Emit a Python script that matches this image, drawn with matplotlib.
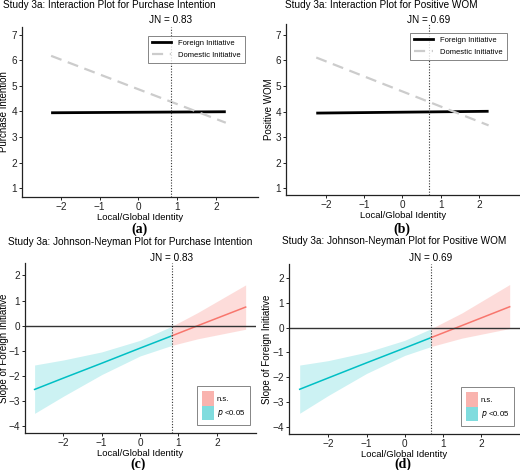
import numpy as np
import matplotlib
matplotlib.use("Agg")
import matplotlib.pyplot as plt
from matplotlib.patches import Patch
from matplotlib.lines import Line2D

plt.rcParams['font.family'] = ['Liberation Sans', 'DejaVu Sans']

# interaction plots (a) and (b): simple slopes at the ends of the moderator range
moderator_ends = [-2.25, 2.25]
foreign_pi = [3.95, 3.99]
domestic_pi = [6.18, 3.56]
foreign_wom = [3.94, 4.01]
domestic_wom = [6.11, 3.46]
jn_pi = 0.83
jn_wom = 0.69

# Johnson-Neyman plots (c) and (d)
jn_x = [-2.75, -2.0, -1.0, 0.0, 0.83, 1.5, 2.75]
pi_slope = [-2.53, -2.08, -1.49, -0.89, -0.40, 0.00, 0.74]
pi_lo = [-3.48, -2.80, -1.94, -1.20, -0.78, -0.52, -0.14]
pi_hi = [-1.56, -1.36, -1.04, -0.58, -0.02, 0.52, 1.62]

jn_x_wom = [-2.75, -2.0, -1.0, 0.0, 0.69, 1.5, 2.75]
wom_slope = [-2.49, -2.03, -1.42, -0.82, -0.40, 0.09, 0.85]
wom_lo = [-3.46, -2.74, -1.85, -1.12, -0.76, -0.42, -0.03]
wom_hi = [-1.51, -1.33, -0.99, -0.51, -0.04, 0.60, 1.75]

W, H = 520, 470
RED = '#F8766D'
CYAN = '#00BFC4'


def px_axes(fig, left, right, top, bottom):
    return fig.add_axes([left / W, 1 - bottom / H, (right - left) / W, (bottom - top) / H])


def fig_text(fig, x, y, s, **kw):
    fig.text(x / W, 1 - y / H, s, **kw)


def style(ax):
    for s in ['top', 'right']:
        ax.spines[s].set_visible(False)
    for s in ['left', 'bottom']:
        ax.spines[s].set_linewidth(0.9)
        ax.spines[s].set_color('#222222')
    ax.tick_params(direction='out', length=2.5, width=0.7, labelsize=7.2,
                   colors='#222222', pad=1.0)


def jn_label(ax, jn, y_px):
    # JN annotation sits above the panel, at the JN value on the x axis
    x_disp = ax.transData.transform((jn, 0))[0]
    ax.figure.text(x_disp / W, 1 - y_px / H, 'JN = %.2f' % jn,
                   fontsize=7.2, ha='center', va='center')


def interaction(ax, foreign, domestic, jn, ylabel, ylab_x):
    style(ax)
    ax.plot(moderator_ends, foreign, color='black', lw=2.0, solid_capstyle='butt')
    ax.plot(moderator_ends, domestic, color='#CCCCCC', lw=1.6, ls=(0, (5, 3)))
    ax.axvline(jn, color='#333333', lw=0.8, ls=(0, (1, 1.5)))
    ax.set_xticks([-2, -1, 0, 1, 2])
    ax.set_yticks(range(1, 8))
    ax.set_ylabel(ylabel, fontsize=7.0)
    ax.yaxis.set_label_coords(ylab_x, 0.5)
    ax.set_xlabel('Local/Global Identity', fontsize=6.8, labelpad=0.5)
    handles = [Line2D([], [], color='black', lw=2.0),
               Line2D([], [], color='#CCCCCC', lw=1.6, ls=(0, (5, 3)))]
    leg = ax.legend(handles, ['Foreign Initiative', 'Domestic Initiative'],
                    loc='upper right', bbox_to_anchor=(0.945, 0.95), fontsize=5.5,
                    frameon=True, fancybox=False, handlelength=2.4,
                    borderpad=0.55, labelspacing=0.6, handletextpad=1.0,
                    borderaxespad=0)
    leg.get_frame().set_edgecolor('#666666')
    leg.get_frame().set_linewidth(0.7)


def jn_plot(ax, x, slope, lo, hi, jn, ylab_x):
    style(ax)
    x = np.array(x)
    sig = x <= jn
    ns = x >= jn
    ax.fill_between(x[sig], np.array(lo)[sig], np.array(hi)[sig], color=CYAN, alpha=0.2, lw=0)
    ax.fill_between(x[ns], np.array(lo)[ns], np.array(hi)[ns], color=RED, alpha=0.25, lw=0)
    ax.plot(x[sig], np.array(slope)[sig], color=CYAN, lw=1.1)
    ax.plot(x[ns], np.array(slope)[ns], color=RED, lw=1.1)
    ax.axhline(0, color='#333333', lw=1.0)
    ax.axvline(jn, color='#333333', lw=0.8, ls=(0, (1, 1.5)))
    ax.set_xticks([-2, -1, 0, 1, 2])
    ax.set_yticks(range(-4, 3))
    ax.set_ylabel('Slope of Foreign Initiative', fontsize=7.0)
    ax.yaxis.set_label_coords(ylab_x, 0.5)
    ax.set_xlabel('Local/Global Identity', fontsize=6.8, labelpad=0.5)
    handles = [Patch(facecolor='#F9B3AE', edgecolor='none'),
               Patch(facecolor='#80DCDE', edgecolor='none')]
    leg = ax.legend(handles, ['n.s.', '$p$ <0.05'], loc='lower right',
                    bbox_to_anchor=(0.975, 0.045), fontsize=5.6, frameon=True,
                    fancybox=False, handlelength=1.5, handleheight=2.5,
                    borderpad=0.65, labelspacing=0.0, handletextpad=0.4,
                    borderaxespad=0)
    leg.get_frame().set_edgecolor('#666666')
    leg.get_frame().set_linewidth(0.7)


fig = plt.figure(figsize=(W / 100, H / 100), dpi=100)

ax_a = px_axes(fig, 22, 258, 27, 197)
interaction(ax_a, foreign_pi, domestic_pi, jn_pi, 'Purchase Intention', -0.055)
ax_a.set_xlim(-3.0, 3.08)
ax_a.set_ylim(0.65, 7.31)

ax_b = px_axes(fig, 286, 520, 24, 195)
interaction(ax_b, foreign_wom, domestic_wom, jn_wom, 'Positive WOM', -0.051)
ax_b.set_xlim(-3.04, 3.07)
ax_b.set_ylim(0.74, 7.42)

ax_c = px_axes(fig, 25, 256, 263, 433)
jn_plot(ax_c, jn_x, pi_slope, pi_lo, pi_hi, jn_pi, -0.069)
ax_c.set_xlim(-3.0, 3.02)
ax_c.set_ylim(-4.26, 2.49)

ax_d = px_axes(fig, 289, 520, 264, 434)
jn_plot(ax_d, jn_x_wom, wom_slope, wom_lo, wom_hi, jn_wom, -0.074)
ax_d.set_xlim(-3.03, 3.02)
ax_d.set_ylim(-4.30, 2.58)

jn_label(ax_a, jn_pi, 20)
jn_label(ax_b, jn_wom, 20)
jn_label(ax_c, jn_pi, 258)
jn_label(ax_d, jn_wom, 258)

title_kw = dict(fontsize=7.2, va='center')
fig_text(fig, 3, 5, 'Study 3a: Interaction Plot for Purchase Intention', ha='left', **title_kw)
fig_text(fig, 285, 5, 'Study 3a: Interaction Plot for Positive WOM', ha='left', **title_kw)
fig_text(fig, 130, 242, 'Study 3a: Johnson-Neyman Plot for Purchase Intention', ha='center', **title_kw)
fig_text(fig, 394, 241, 'Study 3a: Johnson-Neyman Plot for Positive WOM', ha='center', **title_kw)

tag_kw = dict(fontsize=10, family='Liberation Serif', weight='bold', ha='center', va='center')
fig_text(fig, 139, 229, '(a)', **tag_kw)
fig_text(fig, 402, 229, '(b)', **tag_kw)
fig_text(fig, 138, 464, '(c)', **tag_kw)
fig_text(fig, 403, 464, '(d)', **tag_kw)

fig.savefig('out.png', dpi=100)
